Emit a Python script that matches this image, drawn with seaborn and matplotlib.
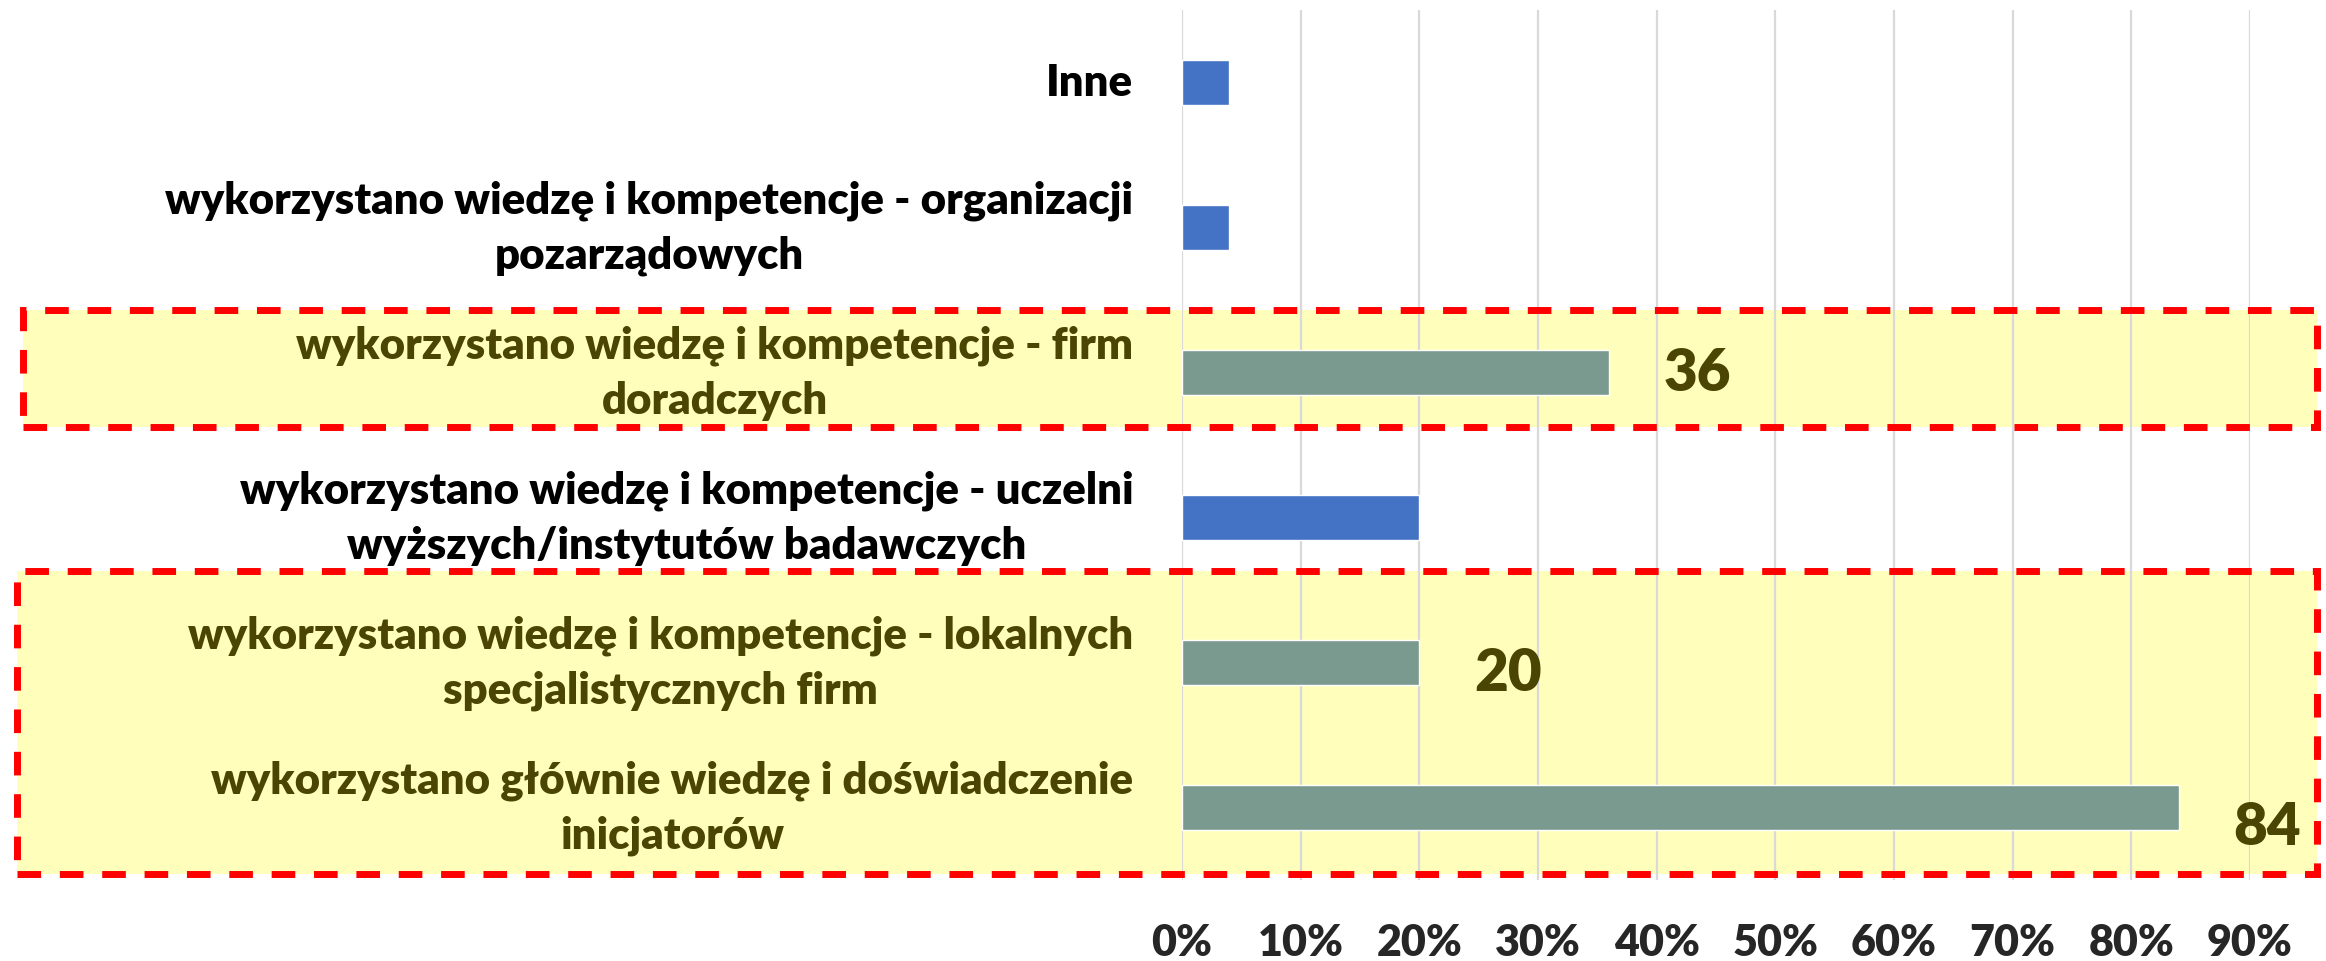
import matplotlib
matplotlib.use("Agg")
import matplotlib.pyplot as plt
import seaborn as sns
import pandas as pd
from matplotlib.patches import Rectangle

categories = [
    "Inne",
    "wykorzystano wiedzę i kompetencje - organizacji\npozarządowych",
    "wykorzystano wiedzę i kompetencje - firm\ndoradczych",
    "wykorzystano wiedzę i kompetencje - uczelni\nwyższych/instytutów badawczych",
    "wykorzystano wiedzę i kompetencje - lokalnych\nspecjalistycznych firm",
    "wykorzystano głównie wiedzę i doświadczenie\ninicjatorów",
]
values = [4, 4, 36, 20, 20, 84]
highlighted = [False, False, True, False, True, True]
x_ticks = [0, 10, 20, 30, 40, 50, 60, 70, 80, 90]

BLUE = "#4472C4"
GREY = "#7A998F"
YELLOW = "#FFFFBB"
OLIVE = "#4A4500"
RED = "#FF0000"

sns.set_style("white")
plt.rcParams["font.family"] = ["Lato", "DejaVu Sans"]
plt.rcParams["font.weight"] = "bold"

W, H = 2326, 962
fig = plt.figure(figsize=(W / 100, H / 100), dpi=100)
fig.patch.set_facecolor("white")


def px_rect(x0, y0, x1, y1, **kw):
    # rectangle given in figure pixels, y measured from the top
    return Rectangle((x0 / W, 1 - y1 / H), (x1 - x0) / W, (y1 - y0) / H,
                     transform=fig.transFigure, **kw)


# yellow highlight boxes behind the chart
boxes = [(23, 311, 2317, 428), (17, 572, 2317, 875)]
for b in boxes:
    fig.patches.append(px_rect(*b, facecolor=YELLOW, edgecolor="none", zorder=-5))

ax = fig.add_axes([1182 / W, 1 - 881 / H, (2250 - 1182) / W, 870 / H])
ax.set_facecolor("none")

df = pd.DataFrame({"cat": categories, "val": values})
palette = {c: (GREY if h else BLUE) for c, h in zip(categories, highlighted)}
sns.barplot(data=df, x="val", y="cat", hue="cat", palette=palette, legend=False,
            orient="h", width=0.31, saturation=1, ax=ax, zorder=3)

ax.set_xlim(0, 90)
ax.set_ylim(len(categories) - 0.5, -0.5)
ax.set_xticks(x_ticks)
ax.set_xticklabels([f"{t}%" for t in x_ticks])
ax.set_xlabel("")
ax.set_ylabel("")
ax.grid(axis="x", color="#D9D9D9", linewidth=1.6, zorder=0)
ax.grid(axis="y", visible=False)
for s in ax.spines.values():
    s.set_visible(False)
ax.tick_params(axis="x", length=0, pad=30, labelsize=31)
ax.tick_params(axis="y", length=0, pad=35, labelsize=31.5)
for lbl in ax.get_xticklabels():
    lbl.set_fontweight("heavy")
for lbl, h in zip(ax.get_yticklabels(), highlighted):
    lbl.set_fontweight("heavy")
    lbl.set_multialignment("center")
    lbl.set_verticalalignment("center")
    lbl.set_linespacing(1.45)
    lbl.set_color(OLIVE if h else "black")

# value labels on the highlighted bars
nudge = {2: 0.0, 4: 0.07, 5: 0.13}
for i, (v, h) in enumerate(zip(values, highlighted)):
    if h:
        ax.text(v + 4.6, i + nudge.get(i, 0), f"{v}", ha="left", va="center",
                fontsize=42, fontweight="heavy", color=OLIVE, zorder=5)

# red dashed frames on top
for b in boxes:
    fig.patches.append(px_rect(*b, facecolor="none", edgecolor=RED, linewidth=5,
                               linestyle=(0, (3.4, 2.7)), zorder=10))

fig.savefig("out.png", dpi=100)
